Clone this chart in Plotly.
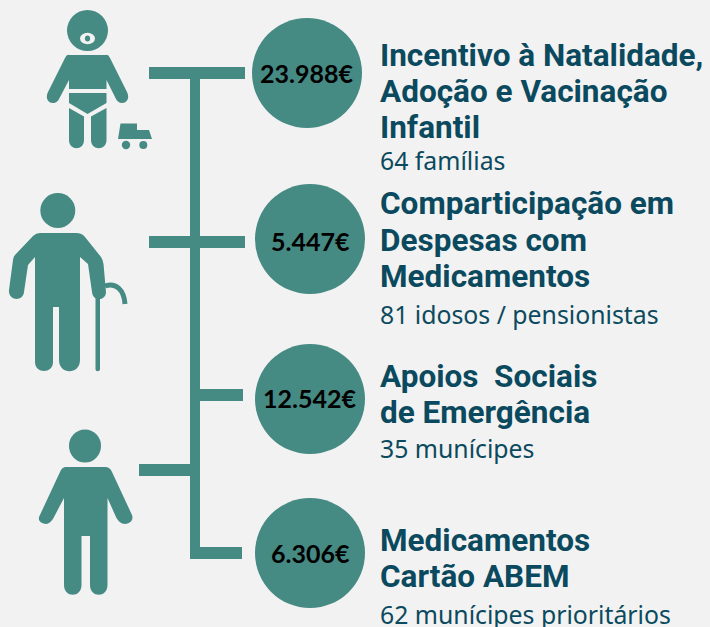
import plotly.graph_objects as go

TEAL = "#468a84"
BG = "#f2f2f2"
NAVY = "#0b4a5e"
FONT = "Lato, sans-serif"
TITLE_FONT = "Roboto, sans-serif"
SUB_FONT = "Noto Sans, sans-serif"

amounts = ["23.988€", "5.447€", "12.542€", "6.306€"]
circle_x = [307, 310, 310, 310]
circle_y = [73, 239, 399, 553]
amount_x = [306.5, 310, 309.5, 310]
amount_y = [73, 241, 398, 553]

title_lines = [
    ["Incentivo à Natalidade,", "Adoção e Vacinação", "Infantil"],
    ["Comparticipação em", "Despesas com", "Medicamentos"],
    ["Apoios  Sociais", "de Emergência"],
    ["Medicamentos", "Cartão ABEM"],
]
title_y = [[55, 91, 127], [203, 240, 276], [376, 412], [540, 576]]
subtitles = ["64 famílias", "81 idosos / pensionistas", "35 munícipes", "62 munícipes prioritários"]
subtitle_y = [160, 314, 448, 614]

# tree connector: (x0, y0, x1, y1)
tree_bars = [
    (190, 67, 200, 559),
    (149, 67, 245, 79),
    (149, 236, 245, 248),
    (200, 389, 243, 401),
    (190, 547, 242, 559),
    (139, 464, 190, 476),
]

baby = [
    "M69,55 L106,55 Q108,54 110,58 L127,92 C130,98 127,103 122,103 C119,103 117,101 116,99 L106.5,80 L106.5,89 L69,89 L69,80 L59,99 C58,101 56,103 53,103 C48,103 45,98 48,92 L65,58 Q67,54 69,55 Z",
    "M69,93 L106.5,93 L106.5,103 L87.5,114 L69,103 Z",
    "M69,108 L84,116.5 L84,140 C84,151 69,151 69,140 Z",
    "M106.5,108 L91,116.5 L91,140 C91,151 106.5,151 106.5,140 Z",
    "M120.5,123.5 L137,123.5 L137,130 L149,130 L152,139 L118,139 Z",
]
baby_circles = [(87.5, 30.5, 20.5, 20.5, TEAL), (87.5, 38.5, 7.5, 5.7, BG), (87.5, 38.5, 2.6, 3, TEAL),
                (126, 145, 4.2, 4.2, TEAL), (143.3, 145, 4, 4, TEAL)]

elder = [
    "M40,233 L76,233 Q82,233 85,237 L101,257 Q103,260 103.5,264 L106,292 C106,301 93,302 92,292 L88,264 L80,257 L80,360 C80,375 59,375 59,360 L59,307 L53,307 L53,362 C53,374 35,374 35,362 L35,257 L28,265 L24,292 C23,302 8,301 9,290 L13,260 Q13,257 15,255 L33,236 Q36,233 40,233 Z",
    "M95.5,296 L100,296 L100,369 C100,372 95.5,372 95.5,369 Z",
]
elder_cane = "M105,286 C116,282 124,290 125,304"
elder_circles = [(57.8, 210.5, 17.5, 17.5, TEAL)]

adult = [
    "M66,467 L105,467 Q110,467 112,472 L132,515 C134,521 129,524 125,524 C121,524 118,521 116,517 L107.5,498 L107.5,585 C107.5,598 90,598 90,585 L90,536 L81.5,536 L81.5,585 C81.5,598 64,598 64,585 L64,498 L54,517 C52,521 49,524 46,524 C42,524 37,521 39.5,516 L60,472 Q62,467 66,467 Z",
]
adult_circles = [(85, 446, 16, 16.5, TEAL)]

fig = go.Figure()
fig.add_trace(go.Scatter(
    x=circle_x, y=circle_y, mode="markers",
    marker=dict(size=110, color=TEAL, line=dict(width=0)),
    hoverinfo="skip", showlegend=False,
))

shapes = []
for x0, y0, x1, y1 in tree_bars:
    shapes.append(dict(type="rect", x0=x0, y0=y0, x1=x1, y1=y1, fillcolor=TEAL, line_width=0, layer="below"))
for p in baby + elder + adult:
    shapes.append(dict(type="path", path=p, fillcolor=TEAL, line_width=0, layer="below"))
shapes.append(dict(type="path", path=elder_cane, line=dict(color=TEAL, width=5), layer="below"))
for cx, cy, rx, ry, col in baby_circles + elder_circles + adult_circles:
    shapes.append(dict(type="circle", x0=cx-rx, x1=cx+rx, y0=cy-ry, y1=cy+ry, fillcolor=col, line_width=0, layer="below"))

annotations = []
for t, x, y in zip(amounts, amount_x, amount_y):
    annotations.append(dict(x=x, y=y, text=f"<b>{t}</b>", showarrow=False, xanchor="center", yanchor="middle",
                            font=dict(family=FONT, size=25, color="#000000")))
for lines, ys in zip(title_lines, title_y):
    for t, y in zip(lines, ys):
        annotations.append(dict(x=380, y=y, text=f"<b>{t}</b>", showarrow=False, xanchor="left", yanchor="middle",
                                xshift=-2, font=dict(family=TITLE_FONT, size=31.5, color=NAVY)))
for t, y in zip(subtitles, subtitle_y):
    annotations.append(dict(x=380, y=y, text=t, showarrow=False, xanchor="left", yanchor="middle",
                            xshift=-2, font=dict(family=SUB_FONT, size=24.8, color=NAVY)))

fig.update_layout(
    width=710, height=627, margin=dict(l=0, r=0, t=0, b=0),
    paper_bgcolor=BG, plot_bgcolor=BG, showlegend=False,
    xaxis=dict(range=[0, 710], visible=False, fixedrange=True),
    yaxis=dict(range=[627, 0], visible=False, fixedrange=True),
    shapes=shapes, annotations=annotations,
)
fig.write_html("out.html", config={"displayModeBar": False},
               post_script="document.body.style.margin='0';document.body.style.overflow='hidden';document.body.style.background='#f2f2f2';")
